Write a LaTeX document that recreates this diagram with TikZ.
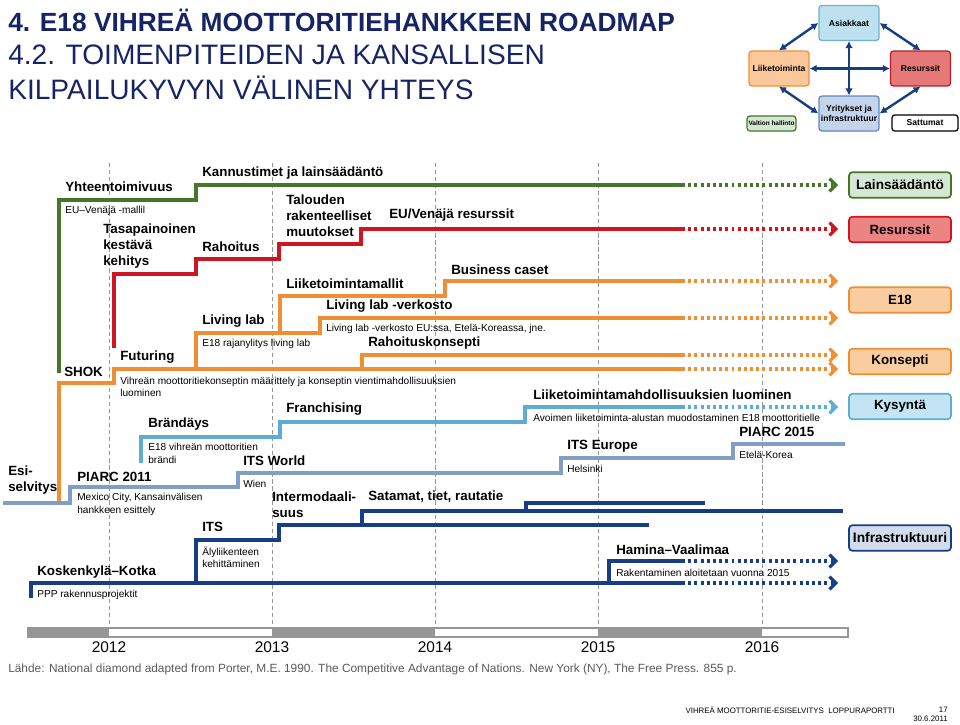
\documentclass[tikz,border=0pt]{standalone}
\usepackage{fontspec}
\setmainfont{Liberation Sans}
\usetikzlibrary{arrows.meta,positioning}

\definecolor{lawgreen}{RGB}{70,118,42}
\definecolor{resred}{RGB}{205,22,32}
\definecolor{e18orange}{RGB}{240,142,52}
\definecolor{demblue}{RGB}{92,172,212}
\definecolor{steelline}{RGB}{128,158,198}
\definecolor{infranavy}{RGB}{22,62,132}
\definecolor{titlenavy}{RGB}{22,36,102}
\definecolor{yeargray}{RGB}{150,150,150}

\tikzset{
  phase/.style={font=\bfseries\fontsize{9.5}{11.4}\selectfont, anchor=west, inner sep=0pt, align=left},
  detail/.style={font=\fontsize{7.2}{8.8}\selectfont, anchor=west, inner sep=0pt, align=left},
  road/.style={line width=2.2pt},
  ahead/.style={line width=2.2pt, dash pattern=on 2.1pt off 2.3pt, -{Straight Barb[length=4.5pt,width=9pt]}},
  goalbox/.style={draw, line width=1.2pt, rounded corners=2.5pt, minimum width=2.55cm, minimum height=0.64cm, inner sep=0pt, font=\bfseries\fontsize{9.5}{11}\selectfont},
  factor/.style={draw, line width=0.9pt, rounded corners=2pt, minimum width=1.5cm, minimum height=0.87cm, inner sep=1pt, align=center, font=\bfseries\fontsize{6.1}{7}\selectfont},
  link/.style={infranavy, line width=1.7pt, {Latex[length=5pt,width=5.5pt]}-{Latex[length=5pt,width=5.5pt]}},
}

\begin{document}
\begin{tikzpicture}[x=0.025cm, y=-0.025cm]
  \useasboundingbox (0,0) rectangle (960,724);

  % Title
  \node[anchor=west, inner sep=0pt, text=titlenavy, font=\bfseries\fontsize{18.7}{22}\selectfont] (title1) at (8,20) {4. E18 VIHREÄ MOOTTORITIEHANKKEEN ROADMAP};
  \node[anchor=west, inner sep=0pt, text=titlenavy, font=\fontsize{20}{24}\selectfont] (title2) at (8,55) {4.2. TOIMENPITEIDEN JA KANSALLISEN};
  \node[anchor=west, inner sep=0pt, text=titlenavy, font=\fontsize{20}{24}\selectfont] (title3) at (8,88) {KILPAILUKYVYN VÄLINEN YHTEYS};

  % Diamond
  \node[factor, fill={rgb,255:red,190;green,225;blue,240}, draw={rgb,255:red,110;green,175;blue,215}] (asiakkaat) at (849,23) {Asiakkaat};
  \node[factor, fill={rgb,255:red,250;green,200;blue,155}, draw=e18orange] (liiketoiminta) at (779,68.5) {Liiketoiminta};
  \node[factor, fill={rgb,255:red,230;green,120;blue,120}, draw={rgb,255:red,180;green,30;blue,40}] (resurssitD) at (920.5,68.5) {Resurssit};
  \node[factor, fill={rgb,255:red,195;green,212;blue,235}, draw={rgb,255:red,100;green,135;blue,185}] (yritykset) at (849,113.5) {Yritykset ja\\infrastruktuur};
  \node[factor, minimum width=1.175cm, minimum height=0.375cm, font=\bfseries\fontsize{4.6}{5}\selectfont, fill={rgb,255:red,213;green,232;blue,212}, draw=lawgreen] (valtio) at (771.5,123.5) {Valtion hallinto};
  \node[factor, minimum width=1.65cm, minimum height=0.4cm, fill=white, draw=black] (sattumat) at (925,123) {Sattumat};

  \draw[link] (asiakkaat.west) -- (liiketoiminta.north);
  \draw[link] (asiakkaat.east) -- (resurssitD.north);
  \draw[link] (asiakkaat.south) -- (yritykset.north);
  \draw[link] (liiketoiminta.east) -- (resurssitD.west);
  \draw[link] (liiketoiminta.south) -- (yritykset.west);
  \draw[link] (resurssitD.south) -- (yritykset.east);

  % Year grid
  \foreach \x in {109,272,435,598,762}
    \draw[yeargray, line width=0.6pt, dash pattern=on 3pt off 2pt] (\x,163) -- (\x,628);

  % Lainsäädäntö
  \draw[road, lawgreen] (59,373) -- (59,200) -- (196,200) -- (196,185) -- (682,185);
  \draw[ahead, lawgreen] (682,185) -- (838,185);

  % Resurssit
  \draw[road, resred] (114,348) -- (114,274) -- (196,274) -- (196,259) -- (279,259) -- (279,244) -- (361,244) -- (361,229) -- (682,229);
  \draw[ahead, resred] (682,229) -- (838,229);

  % E18 ja konsepti
  \draw[road, e18orange] (59,502) -- (59,383) -- (114,383) -- (114,369) -- (682,369);
  \draw[road, e18orange] (196,369) -- (196,333) -- (320,333) -- (320,318) -- (682,318);
  \draw[road, e18orange] (280,333) -- (280,296) -- (445,296) -- (445,281) -- (682,281);
  \draw[road, e18orange] (362,369) -- (362,355) -- (682,355);
  \foreach \y in {281,318,355,369}
    \draw[ahead, e18orange] (682,\y) -- (838,\y);

  % Kysyntä
  \draw[road, demblue] (141,463) -- (141,437) -- (280,437) -- (280,422) -- (525,422) -- (525,407) -- (682,407);
  \draw[ahead, demblue] (682,407) -- (838,407);

  % Esiselvitys
  \draw[road, steelline] (3,503) -- (70,503) -- (70,487) -- (238,487) -- (238,473) -- (561,473) -- (561,458) -- (733,458) -- (733,444) -- (845,444);

  % Infrastruktuuri
  \draw[road, infranavy] (31,598) -- (31,583) -- (682,583);
  \draw[road, infranavy] (609,583) -- (609,561) -- (682,561);
  \draw[road, infranavy] (196,583) -- (196,540) -- (279,540) -- (279,525) -- (649,525);
  \draw[road, infranavy] (362,525) -- (362,511) -- (843,511);
  \draw[road, infranavy] (526,511) -- (526,503) -- (705,503);
  \draw[ahead, infranavy] (682,583) -- (838,583);
  \draw[ahead, infranavy] (682,561) -- (838,561);

  % Labels
  \node[phase] (yht) at (65,187) {Yhteentoimivuus};
  \node[detail] (eumalli) at (65,211) {EU–Venäjä -mallil};
  \node[phase] (kannustimet) at (202,173) {Kannustimet ja lainsäädäntö};
  \node[phase] (tasapaino) at (103,246) {Tasapainoinen\\kestävä\\kehitys};
  \node[phase] (rahoitus) at (202,247) {Rahoitus};
  \node[phase] (talous) at (286,216) {Talouden\\rakenteelliset\\muutokset};
  \node[phase] (euresurssit) at (389,215) {EU/Venäjä resurssit};
  \node[phase] (shok) at (64,372) {SHOK};
  \node[phase] (futuring) at (120,357) {Futuring};
  \node[detail] (vihrea) at (120,387) {Vihreän moottoritiekonseptin määrittely ja konseptin vientimahdollisuuksien\\luominen};
  \node[phase] (livinglab) at (202,321) {Living lab};
  \node[detail] (rajanylitys) at (202,344) {E18 rajanylitys living lab};
  \node[phase] (liikemallit) at (286,284) {Liiketoimintamallit};
  \node[phase] (verkosto) at (326,306) {Living lab -verkosto};
  \node[detail] (verkostoEU) at (326,329) {Living lab -verkosto EU:ssa, Etelä-Koreassa, jne.};
  \node[phase] (business) at (451,270) {Business caset};
  \node[phase] (rahkonsepti) at (368,343) {Rahoituskonsepti};
  \node[phase] (brandays) at (148,424) {Brändäys};
  \node[detail] (brandi) at (148,453.5) {E18 vihreän moottoritien\\brändi};
  \node[phase] (franchising) at (286,409) {Franchising};
  \node[phase] (mahdollisuudet) at (533,395) {Liiketoimintamahdollisuuksien luominen};
  \node[detail] (alusta) at (533,418) {Avoimen liiketoiminta-alustan muodostaminen E18 moottoritielle};
  \node[phase] (esiselvitys) at (8,480) {Esi-\\selvitys};
  \node[phase] (piarc11) at (77,477) {PIARC 2011};
  \node[detail] (mexico) at (77,504.5) {Mexico City, Kansainvälisen\\hankkeen esittely};
  \node[phase] (itsworld) at (243,461) {ITS World};
  \node[detail] (wien) at (243,484) {Wien};
  \node[phase] (itseurope) at (567,446) {ITS Europe};
  \node[detail] (helsinki) at (567,469) {Helsinki};
  \node[phase] (piarc15) at (739,432) {PIARC 2015};
  \node[detail] (etelakorea) at (739,455) {Etelä-Korea};
  \node[phase] (intermodaali) at (272,505) {Intermodaali-\\suus};
  \node[phase] (satamat) at (368,497) {Satamat, tiet, rautatie};
  \node[phase] (its) at (202,527) {ITS};
  \node[detail] (aly) at (202,557) {Älyliikenteen\\kehittäminen};
  \node[phase] (koskenkyla) at (37,572) {Koskenkylä–Kotka};
  \node[detail] (ppp) at (37,595) {PPP rakennusprojektit};
  \node[phase] (hamina) at (616,550) {Hamina–Vaalimaa};
  \node[detail] (rakentaminen) at (616,573) {Rakentaminen aloitetaan vuonna 2015};

  % Goals
  \node[goalbox, font=\bfseries\fontsize{9.7}{11}\selectfont, fill={rgb,255:red,213;green,232;blue,212}, draw=lawgreen] (lainsaadanto) at (900,185) {Lainsäädäntö};
  \node[goalbox, fill={rgb,255:red,236;green,132;blue,132}, draw=resred] (resurssit) at (900,229.5) {Resurssit};
  \node[goalbox, fill={rgb,255:red,250;green,205;blue,160}, draw=e18orange] (e18) at (900,300) {E18};
  \node[goalbox, fill={rgb,255:red,250;green,205;blue,160}, draw=e18orange] (konsepti) at (900,361.5) {Konsepti};
  \node[goalbox, fill={rgb,255:red,195;green,228;blue,242}, draw=demblue] (kysynta) at (900,406.5) {Kysyntä};
  \node[goalbox, font=\bfseries\fontsize{9.8}{11}\selectfont, fill={rgb,255:red,210;green,220;blue,236}, draw=infranavy] (infra) at (900,538) {Infrastruktuuri};

  % Timeline
  \draw[yeargray, line width=0.8pt] (28,628) rectangle (848,637);
  \fill[yeargray] (28,628) rectangle (109,637);
  \fill[yeargray] (272,628) rectangle (435,637);
  \fill[yeargray] (598,628) rectangle (762,637);
  \foreach \x/\yr in {109/2012,272/2013,435/2014,598/2015,762/2016}
    \node[font=\fontsize{11}{13}\selectfont, inner sep=0pt] (y\yr) at (\x,647) {\yr};

  % Source and footer
  \node[anchor=west, inner sep=0pt, text={rgb,255:red,90;green,90;blue,90}, font=\fontsize{8.45}{10}\selectfont] (lahde) at (8,669) {Lähde: National diamond adapted from Porter, M.E. 1990. The Competitive Advantage of Nations. New York (NY), The Free Press. 855 p.};
  \node[anchor=east, inner sep=0pt, font=\fontsize{5.6}{6.5}\selectfont] (raportti) at (895,710) {VIHREÄ MOOTTORITIE-ESISELVITYS\ \ LOPPURAPORTTI};
  \node[anchor=east, inner sep=0pt, font=\fontsize{5.6}{6.5}\selectfont] (sivu) at (948,710) {17};
  \node[anchor=east, inner sep=0pt, font=\fontsize{5.6}{6.5}\selectfont] (pvm) at (948,719) {30.6.2011};
\end{tikzpicture}
\end{document}
